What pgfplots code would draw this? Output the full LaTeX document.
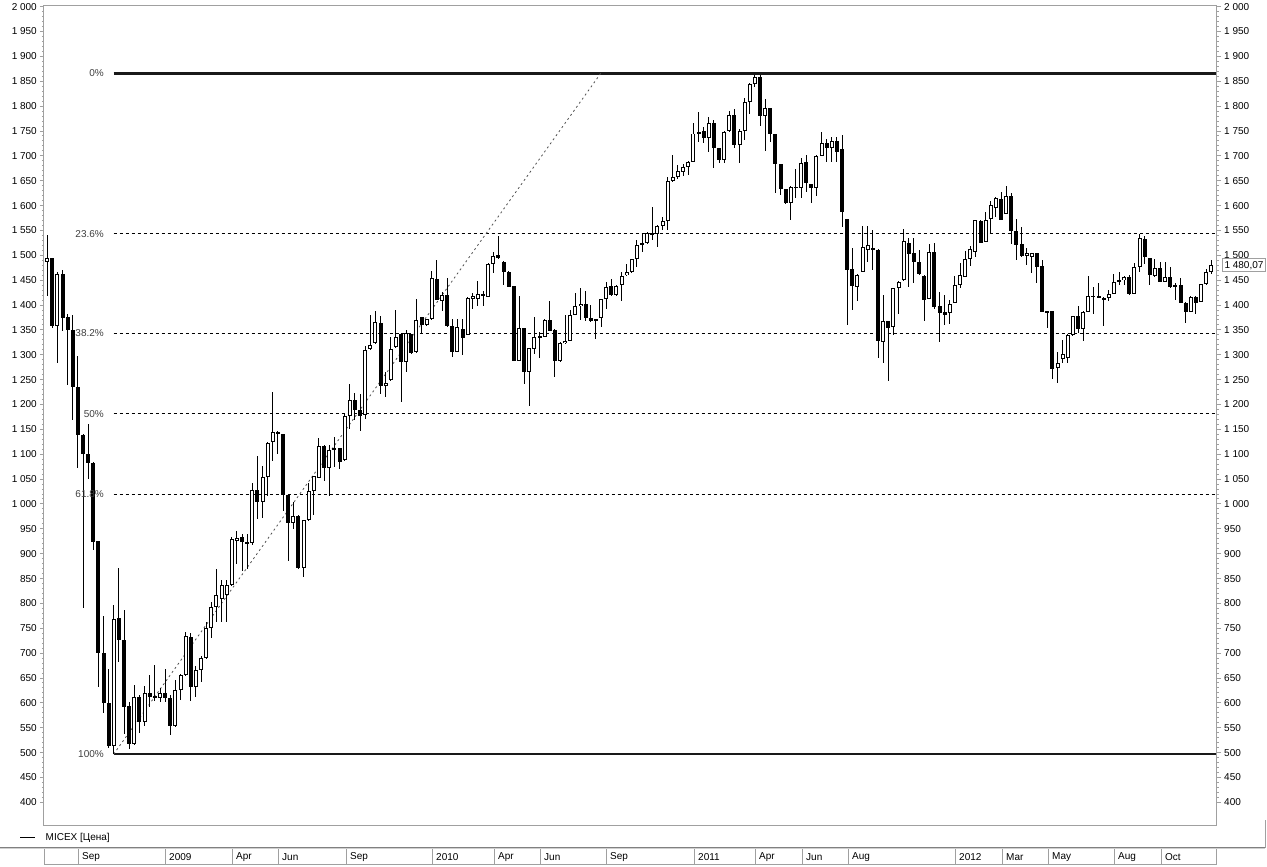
\documentclass[border=0pt]{standalone}
\usepackage{fontspec}
\setmainfont{Liberation Sans}
\usepackage{pgfplots}
\usepackage{pgfplotstable}
\pgfplotsset{compat=1.18}
\definecolor{axgray}{HTML}{A0A0A0}
\definecolor{fibtxt}{HTML}{404040}
\definecolor{trend}{HTML}{505050}

\pgfplotstableread{
o h l c
1487 1541 1419 1494
1494 1495 1354 1358
1358 1467 1284 1462
1462 1471 1347 1374
1376 1383 1239 1350
1350 1381 1168 1235
1236 1298 1073 1138
1139 1140 790 1100
1100 1161 1050 1082
1082 1084 907 924
925 926 632 701
701 775 579 599
599 668 509 514
514 797 497 768
771 871 683 726
726 787 537 592
594 602 507 517
517 636 515 611
612 616 540 562
562 634 554 620
620 657 592 612
614 676 603 609
609 629 602 619
619 669 602 609
609 616 535 554
554 646 552 626
626 658 606 657
657 743 655 734
733 740 604 631
631 674 612 667
667 694 641 690
690 763 688 750
750 802 730 792
792 869 763 817
808 848 763 838
817 848 763 838
838 933 836 929
926 945 880 932
934 940 866 923
924 940 869 920
921 1042 918 1029
1029 1096 969 1003
1003 1077 971 1055
1055 1125 1016 1123
1124 1226 1086 1145
1145 1147 1100 1140
1140 1141 985 1018
1018 1019 885 961
961 1004 949 976
976 977 870 872
872 968 853 967
967 1042 966 1027
1027 1057 978 1056
1053 1132 1052 1116
1116 1118 1046 1073
1073 1118 1016 1108
1109 1135 1075 1112
1112 1113 1071 1085
1088 1182 1086 1177
1177 1241 1150 1209
1209 1224 1168 1188
1188 1222 1147 1177
1179 1318 1170 1310
1311 1381 1310 1320
1323 1389 1321 1365
1363 1378 1222 1238
1238 1266 1216 1243
1249 1335 1247 1311
1315 1391 1313 1335
1341 1343 1206 1286
1286 1350 1266 1343
1341 1342 1302 1303
1305 1412 1304 1370
1375 1376 1343 1359
1359 1372 1358 1371
1371 1469 1370 1454
1452 1491 1410 1411
1408 1427 1389 1420
1420 1454 1356 1357
1357 1371 1296 1306
1306 1371 1305 1355
1351 1371 1300 1333
1340 1416 1339 1415
1413 1424 1393 1418
1413 1449 1398 1422
1422 1428 1398 1418
1417 1484 1416 1483
1483 1506 1464 1499
1501 1539 1492 1495
1487 1488 1440 1467
1467 1468 1436 1437
1438 1439 1287 1288
1288 1418 1287 1353
1353 1354 1241 1266
1266 1314 1198 1313
1311 1377 1301 1336
1335 1346 1293 1338
1336 1371 1335 1370
1370 1408 1347 1348
1350 1351 1256 1288
1288 1325 1285 1324
1323 1380 1322 1328
1328 1390 1327 1381
1381 1424 1380 1398
1398 1434 1370 1403
1403 1429 1367 1373
1373 1400 1366 1367
1371 1372 1331 1368
1373 1413 1355 1412
1412 1447 1393 1436
1439 1452 1419 1420
1420 1440 1419 1438
1440 1467 1409 1458
1460 1482 1459 1466
1466 1493 1464 1492
1492 1531 1477 1521
1521 1544 1507 1524
1524 1547 1523 1544
1545 1598 1530 1541
1542 1560 1517 1559
1559 1578 1551 1569
1569 1657 1551 1650
1650 1702 1648 1657
1657 1682 1653 1670
1668 1683 1660 1677
1677 1689 1662 1688
1688 1767 1687 1745
1745 1789 1727 1749
1750 1759 1725 1735
1735 1779 1708 1767
1767 1772 1676 1715
1715 1716 1686 1692
1692 1750 1686 1749
1750 1790 1749 1782
1782 1794 1715 1722
1722 1755 1685 1750
1750 1816 1732 1809
1809 1846 1784 1844
1844 1863 1839 1858
1858 1863 1761 1781
1781 1814 1710 1796
1796 1797 1728 1743
1743 1744 1625 1683
1683 1684 1621 1633
1633 1634 1604 1605
1605 1640 1572 1638
1638 1673 1615 1635
1635 1695 1615 1685
1687 1702 1628 1645
1643 1644 1605 1635
1635 1701 1619 1700
1700 1749 1699 1725
1725 1734 1687 1715
1715 1737 1688 1730
1730 1737 1688 1707
1714 1742 1556 1588
1573 1574 1359 1471
1473 1514 1390 1439
1437 1462 1408 1461
1467 1558 1466 1516
1511 1559 1487 1521
1514 1551 1471 1511
1511 1512 1294 1328
1325 1420 1283 1367
1367 1368 1247 1353
1355 1435 1340 1434
1434 1448 1383 1447
1450 1553 1449 1529
1524 1534 1437 1502
1504 1534 1444 1486
1486 1510 1461 1462
1459 1460 1367 1410
1413 1522 1412 1506
1506 1524 1392 1397
1398 1427 1326 1385
1387 1420 1360 1381
1385 1410 1362 1403
1405 1458 1404 1440
1440 1484 1434 1460
1457 1509 1456 1492
1492 1519 1479 1512
1507 1572 1496 1571
1570 1572 1524 1525
1527 1588 1526 1571
1574 1610 1543 1601
1596 1618 1578 1615
1613 1628 1571 1572
1584 1639 1583 1619
1619 1626 1523 1548
1548 1574 1491 1521
1523 1556 1496 1499
1499 1514 1480 1505
1497 1505 1465 1504
1504 1505 1444 1476
1478 1491 1386 1387
1388 1389 1353 1385
1388 1389 1251 1271
1273 1306 1244 1283
1291 1330 1283 1301
1293 1341 1283 1340
1340 1379 1337 1378
1378 1398 1343 1351
1351 1388 1328 1387
1387 1458 1386 1418
1417 1436 1382 1419
1418 1444 1414 1415
1411 1416 1357 1415
1415 1430 1408 1423
1423 1462 1422 1446
1446 1467 1440 1450
1450 1459 1440 1456
1456 1461 1421 1422
1423 1484 1422 1476
1476 1543 1467 1534
1532 1539 1482 1496
1494 1495 1440 1460
1458 1492 1457 1475
1475 1487 1446 1447
1447 1487 1446 1457
1457 1476 1435 1436
1436 1445 1410 1440
1440 1454 1404 1405
1405 1406 1363 1387
1387 1418 1386 1417
1417 1418 1382 1405
1407 1443 1406 1442
1442 1472 1441 1467
1467 1491 1462 1480.07
}\candles

\pgfplotsset{
  chartaxis/.style={
    at={(44bp,-825bp)}, anchor=south west,
    scale only axis, width=1173bp, height=820bp,
    xmin=-0.62, xmax=228.1, ymin=354.4, ymax=2003.4,
    xtick=\empty,
    ytick={400,450,...,2000},
    minor y tick num=4,
    tick align=outside,
    major tick length=4bp, minor tick length=2bp,
    axis line style={axgray, line width=1bp},
    tick style={axgray, line width=1bp},
    scaled y ticks=false,
    tick label style={font=\fontsize{10bp}{12bp}\selectfont, black},
    /pgf/number format/assume math mode=true,
    /pgf/number format/1000 sep={\ },
  },
  candle/.style={draw=none, mark=none, forget plot,
    error bars/.cd, y dir=both, y explicit, error mark=none}
}

\begin{document}
\fontsize{10bp}{12bp}\selectfont
\begin{tikzpicture}
\path[use as bounding box] (0,0) rectangle (1267bp,-867bp);
\fill[white] (0,0) rectangle (1267bp,-867bp);

\begin{axis}[chartaxis, ytick pos=left,
  yticklabel style={anchor=east, inner sep=0pt, xshift=-3bp}]
  % Fibonacci levels
  \addplot[black!90, line width=2.5bp] coordinates {(12.97,1866) (228.1,1866)};
  \addplot[black!90, line width=2.5bp] coordinates {(12.97,497) (228.1,497)};
  \addplot[black, line width=1bp, dash pattern=on 3bp off 3bp] coordinates {(12.97,1542.9) (228.1,1542.9)};
  \addplot[black, line width=1bp, dash pattern=on 3bp off 3bp] coordinates {(12.97,1343.0) (228.1,1343.0)};
  \addplot[black, line width=1bp, dash pattern=on 3bp off 3bp] coordinates {(12.97,1181.5) (228.1,1181.5)};
  \addplot[black, line width=1bp, dash pattern=on 3bp off 3bp] coordinates {(12.97,1020.0) (228.1,1020.0)};
  % trend line
  \addplot[trend, line width=0.8bp, dash pattern=on 2bp off 3bp] coordinates {(12.97,497) (107.94,1866)};
  % wicks
  \addplot[candle, error bar style={draw=black, solid, line width=1bp}]
    table[x expr=\coordindex, y expr={(\thisrow{h}+\thisrow{l})/2},
          y error expr={(\thisrow{h}-\thisrow{l})/2}] {\candles};
  % bodies
  \addplot[candle, error bar style={draw=black, solid, line width=4bp}]
    table[x expr=\coordindex, y expr={(\thisrow{o}+\thisrow{c})/2},
          y error expr={max(abs(\thisrow{c}-\thisrow{o})/2,0.9)}] {\candles};
  % hollow interiors of rising candles
  \addplot[candle, error bar style={draw=white, solid, line width=2bp}]
    table[x expr=\coordindex,
          y expr={(\thisrow{c}-\thisrow{o}>4.5) ? (\thisrow{o}+\thisrow{c})/2 : nan},
          y error expr={max((\thisrow{c}-\thisrow{o})/2-2.0,0)}] {\candles};
\end{axis}

\begin{axis}[chartaxis, hide x axis, axis y line*=right, ytick pos=right,
  yticklabel pos=right,
  yticklabel style={anchor=west, inner sep=0pt, xshift=3bp}]
  \addplot[draw=none, mark=none] coordinates {(0,1000)};
\end{axis}

\begin{scope}[x=1bp, y=-1bp]
  % Fibonacci labels
  \node[anchor=east, inner sep=0pt, text=fibtxt] at (104,73.3) {0\%};
  \node[anchor=east, inner sep=0pt, text=fibtxt] at (104,234.2) {23.6\%};
  \node[anchor=east, inner sep=0pt, text=fibtxt] at (104,333.4) {38.2\%};
  \node[anchor=east, inner sep=0pt, text=fibtxt] at (104,413.7) {50\%};
  \node[anchor=east, inner sep=0pt, text=fibtxt] at (104,494.0) {61.8\%};
  \node[anchor=east, inner sep=0pt, text=fibtxt] at (104,754.1) {100\%};
  % last price box
  \node[draw=axgray, fill=white, line width=1bp, anchor=west, inner xsep=2bp, inner ysep=0pt,
        minimum height=13bp] at (1222,265.3) {1 480,07};
  % legend
  \draw[black, line width=1bp] (20,837.5) -- (35,837.5);
  \node[anchor=west, inner sep=0pt] at (45.5,837.5) {MICEX [Цена]};
  % date strip
  \draw[gray, line width=1bp] (0,847.5) -- (1265,847.5);
  \draw[axgray!50, line width=1bp] (0,848.5) -- (1265,848.5);
  \draw[axgray, line width=1bp] (44,864.5) -- (1216,864.5);
  \foreach \xx in {44.5,78.5,165.5,232.5,278.5,346.5,432.5,494.5,540.5,606.5,694.5,755.5,802.5,848.5,955.5,1002.5,1048.5,1114.5,1161.5,1216.5}
    \draw[axgray, line width=1bp] (\xx,849) -- (\xx,865);
  \foreach \xx/\lab in {78.5/Sep,165.5/2009,232.5/Apr,278.5/Jun,346.5/Sep,432.5/2010,494.5/Apr,540.5/Jun,606.5/Sep,694.5/2011,755.5/Apr,802.5/Jun,848.5/Aug,955.5/2012,1002.5/Mar,1048.5/May,1114.5/Aug,1161.5/Oct}
    \node[anchor=west, inner sep=0pt] at (\xx+3.5,857) {\lab};
  \draw[axgray, line width=1bp] (1265.5,820) -- (1265.5,848);
\end{scope}
\end{tikzpicture}
\end{document}
